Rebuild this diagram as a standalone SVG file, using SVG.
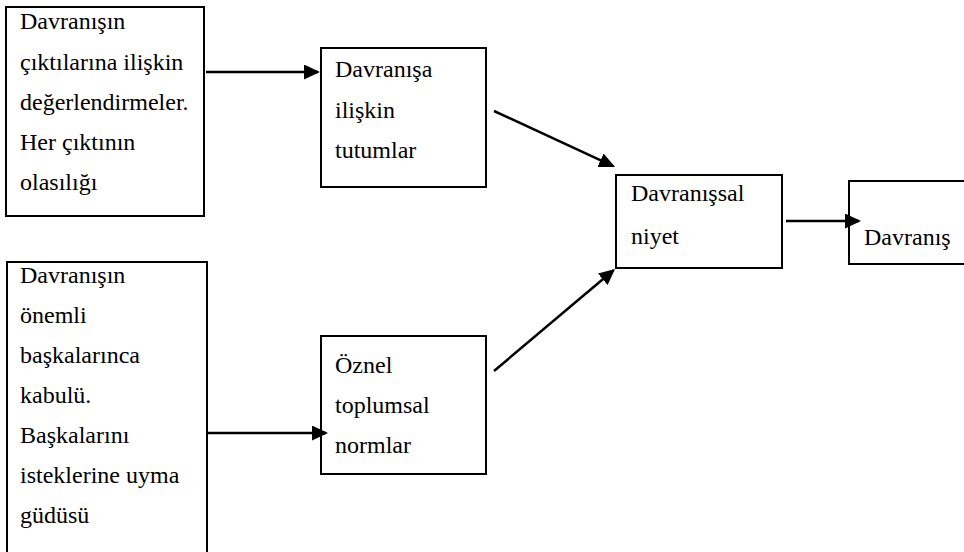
<svg xmlns="http://www.w3.org/2000/svg" width="964" height="552" viewBox="0 0 964 552">
<defs>
<style>
.box{fill:#fff;stroke:#000;stroke-width:2}
.t{font-family:"Liberation Serif","Times New Roman",serif;font-size:24px;fill:#000}
.c{stroke:#000;stroke-width:2.5;fill:none;marker-end:url(#ah)}
</style>
<marker id="ah" markerUnits="userSpaceOnUse" markerWidth="18" markerHeight="18" refX="14" refY="7.5" orient="auto">
<path d="M0,0 L16,7.5 L0,15 z" fill="#000"/>
</marker>
</defs>
<rect width="964" height="552" fill="#fff"/>
<g id="n1">
<rect class="box" x="6" y="7" width="198" height="209"/>
<text class="t"><tspan x="20" y="29">Davranışın</tspan><tspan x="20" y="70">çıktılarına ilişkin</tspan><tspan x="20" y="110">değerlendirmeler.</tspan><tspan x="20" y="150">Her çıktının</tspan><tspan x="20" y="190">olasılığı</tspan></text>
</g>
<g id="n2">
<rect class="box" x="321" y="48" width="165" height="139"/>
<text class="t"><tspan x="335" y="77">Davranışa</tspan><tspan x="335" y="118">ilişkin</tspan><tspan x="335" y="158">tutumlar</tspan></text>
</g>
<g id="n3">
<rect class="box" x="616" y="175" width="166" height="93"/>
<text class="t"><tspan x="631" y="201">Davranışsal</tspan><tspan x="631" y="244">niyet</tspan></text>
</g>
<g id="n4">
<rect class="box" x="849" y="181" width="130" height="83"/>
<text class="t" x="864" y="245">Davranış</text>
</g>
<g id="n5">
<rect class="box" x="7" y="262" width="200" height="300"/>
<text class="t"><tspan x="20" y="283">Davranışın</tspan><tspan x="20" y="323">önemli</tspan><tspan x="20" y="363">başkalarınca</tspan><tspan x="20" y="403">kabulü.</tspan><tspan x="20" y="443">Başkalarını</tspan><tspan x="20" y="483">isteklerine uyma</tspan><tspan x="20" y="523">güdüsü</tspan></text>
</g>
<g id="n6">
<rect class="box" x="321" y="336" width="165" height="138"/>
<text class="t"><tspan x="335" y="373">Öznel</tspan><tspan x="335" y="413">toplumsal</tspan><tspan x="335" y="453">normlar</tspan></text>
</g>
<g id="connectors">
<path class="c" d="M206,72 L318,72"/>
<path class="c" d="M494,111 L613.2,166.2"/>
<path class="c" d="M494,371 L613.5,270.3"/>
<path class="c" d="M786,221 L859,221"/>
<path class="c" d="M207,433 L326,433"/>
</g>
</svg>
